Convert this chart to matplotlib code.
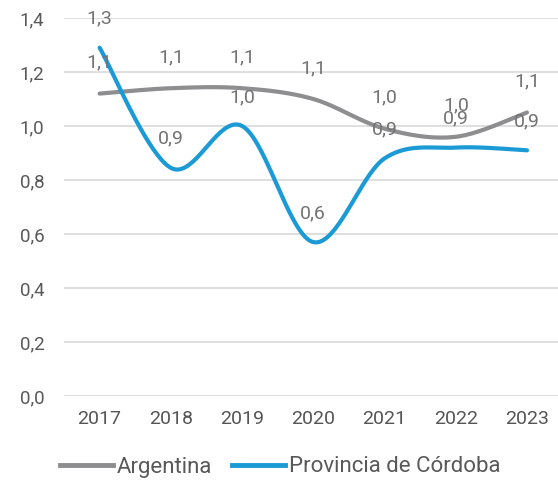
import numpy as np
import matplotlib
matplotlib.use("Agg")
import matplotlib.pyplot as plt
from matplotlib.lines import Line2D

years = ["2017", "2018", "2019", "2020", "2021", "2022", "2023"]
argentina = [1.12, 1.14, 1.14, 1.10, 0.99, 0.96, 1.05]
cordoba = [1.29, 0.845, 1.00, 0.57, 0.88, 0.92, 0.91]
arg_labels = ["1,1", "1,1", "1,1", "1,1", "1,0", "1,0", "1,1"]
cba_labels = ["1,3", "0,9", "1,0", "0,6", "0,9", "0,9", "0,9"]
yticks = [0.0, 0.2, 0.4, 0.6, 0.8, 1.0, 1.2, 1.4]

plt.rcParams['font.family'] = ['Roboto', 'DejaVu Sans']

def smooth(xs, ys, n=40):
    xs = np.asarray(xs, float); ys = np.asarray(ys, float)
    px, py = [], []
    m = len(xs)
    for i in range(m - 1):
        p0 = np.array([xs[max(i-1, 0)], ys[max(i-1, 0)]])
        p1 = np.array([xs[i], ys[i]])
        p2 = np.array([xs[i+1], ys[i+1]])
        p3 = np.array([xs[min(i+2, m-1)], ys[min(i+2, m-1)]])
        c1 = p1 + (p2 - p0) / 6.0
        c2 = p2 - (p3 - p1) / 6.0
        t = np.linspace(0, 1, n)[:, None]
        b = ((1-t)**3) * p1 + 3*((1-t)**2)*t*c1 + 3*(1-t)*t**2*c2 + t**3*p2
        px.extend(b[:, 0]); py.extend(b[:, 1])
    return np.array(px), np.array(py)

fig = plt.figure(figsize=(5.58, 4.88), dpi=100)
W, H = 558, 488
ax = fig.add_axes([64/W, 1-396/H, (562.6-64)/W, (396-18)/H])
ax.set_xlim(-0.5, 6.5)
ax.set_ylim(0, 1.4)

x = np.arange(len(years))
gray = "#8E8E91"
blue = "#1B9AD6"
sx, sy = smooth(x, argentina)
ax.plot(sx, sy, color=gray, lw=3.0, solid_capstyle='round', zorder=3)
sx, sy = smooth(x, cordoba)
ax.plot(sx, sy, color=blue, lw=3.0, solid_capstyle='round', zorder=4)

lab_col = "#737373"
for i in range(len(years)):
    ax.annotate(arg_labels[i], (x[i], argentina[i]), xytext=(0, 31), textcoords='offset pixels',
                ha='center', va='center', fontsize=14, color=lab_col, zorder=5)
    ax.annotate(cba_labels[i], (x[i], cordoba[i]), xytext=(0, 29), textcoords='offset pixels',
                ha='center', va='center', fontsize=14, color=lab_col, zorder=5)

ax.set_yticks(yticks)
ax.set_yticklabels([f"{v:.1f}".replace(".", ",") for v in yticks], fontsize=13.5, color="#595959")
ax.set_xticks(x)
ax.set_xticklabels(years, fontsize=14, color="#555555")
ax.tick_params(axis='both', length=0)
ax.tick_params(axis='y', pad=14)
ax.tick_params(axis='x', pad=10)
ax.grid(axis='y', color="#D9D9D9", lw=1.2)
ax.set_axisbelow(True)
for s in ax.spines.values():
    s.set_visible(False)

handles = [Line2D([], [], color=gray, lw=3.5), Line2D([], [], color=blue, lw=3.5)]
fig.legend(handles, ["Argentina", "Provincia de Córdoba"], loc='center', bbox_to_anchor=(0.502, 1-467/H),
           ncol=2, frameon=False, fontsize=16, handlelength=2.4, handletextpad=0.15, columnspacing=0.9,
           labelcolor="#595959", borderaxespad=0, borderpad=0)

fig.savefig("out.png", dpi=100)
